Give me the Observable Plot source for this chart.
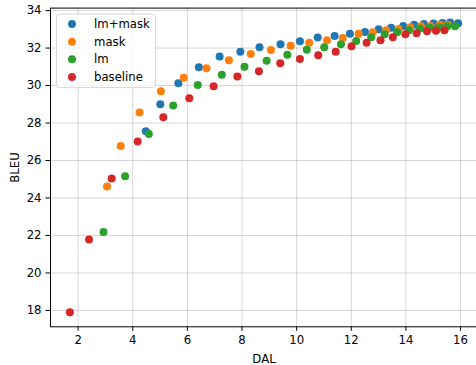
<!DOCTYPE html>
<html>
<head>
<meta charset="utf-8">
<script src="https://cdn.jsdelivr.net/npm/d3@7"></script>
<script src="https://cdn.jsdelivr.net/npm/@observablehq/plot@0.6"></script>
<style>
  html, body { margin: 0; padding: 0; background: #fff; }
  #chart { width: 476px; height: 365px; overflow: hidden; }
</style>
</head>
<body>
<div id="chart"></div>
<script>
const seriesNames = ["lm+mask", "mask", "lm", "baseline"];
const seriesColors = ["#1f77b4", "#ff7f0e", "#2ca02c", "#d62728"];

const dalLmMask = [4.48, 5.01, 5.67, 6.42, 7.18, 7.94, 8.64, 9.41, 10.12, 10.77, 11.39, 11.95, 12.50, 13.00, 13.46, 13.90, 14.30, 14.66, 15.01, 15.34, 15.62, 15.91];
const bleuLmMask = [27.56, 29.00, 30.12, 30.98, 31.55, 31.81, 32.04, 32.20, 32.36, 32.56, 32.65, 32.76, 32.86, 33.00, 33.09, 33.18, 33.24, 33.29, 33.31, 33.34, 33.36, 33.32];

const dalMask = [3.06, 3.56, 4.25, 5.03, 5.87, 6.70, 7.52, 8.32, 9.06, 9.78, 10.46, 11.11, 11.69, 12.27, 12.79, 13.28, 13.73, 14.16, 14.55, 14.90, 15.24, 15.53];
const bleuMask = [24.61, 26.78, 28.56, 29.70, 30.41, 30.92, 31.35, 31.69, 31.90, 32.12, 32.28, 32.42, 32.54, 32.76, 32.85, 32.95, 33.02, 33.11, 33.16, 33.18, 33.24, 33.25];

const dalLm = [2.93, 3.72, 4.59, 5.48, 6.38, 7.26, 8.09, 8.90, 9.66, 10.37, 11.01, 11.62, 12.18, 12.73, 13.22, 13.68, 14.11, 14.51, 14.88, 15.23, 15.52, 15.80];
const bleuLm = [22.18, 25.16, 27.42, 28.93, 30.03, 30.57, 31.00, 31.33, 31.64, 31.91, 32.05, 32.21, 32.38, 32.58, 32.74, 32.84, 32.95, 33.04, 33.08, 33.11, 33.16, 33.16];

const dalBase = [1.70, 2.40, 3.23, 4.18, 5.12, 6.07, 6.96, 7.83, 8.62, 9.40, 10.12, 10.79, 11.43, 12.01, 12.56, 13.07, 13.52, 13.98, 14.39, 14.77, 15.10, 15.41];
const bleuBase = [17.90, 21.79, 25.04, 27.01, 28.31, 29.32, 29.96, 30.48, 30.76, 31.19, 31.42, 31.62, 31.80, 32.10, 32.29, 32.42, 32.58, 32.74, 32.79, 32.90, 32.93, 32.95];

const xTicks = [2, 4, 6, 8, 10, 12, 14, 16];
const yTicks = [18, 20, 22, 24, 26, 28, 30, 32, 34];
const xLabel = "DAL";
const yLabel = "BLEU";

// Build table (drawing order: lm+mask, mask, lm, baseline)
const dalSeries = [dalLmMask, dalMask, dalLm, dalBase];
const bleuSeries = [bleuLmMask, bleuMask, bleuLm, bleuBase];
const table = [];
seriesNames.forEach((name, i) => {
  dalSeries[i].forEach((d, j) => table.push({series: name, dal: d, bleu: bleuSeries[i][j]}));
});

// matplotlib-like 5% margins
function padded(vals) {
  const [lo, hi] = d3.extent(vals);
  const m = (hi - lo) * 0.05;
  return [lo - m, hi + m];
}
const xDomain = padded(table.map(d => d.dal));
const yDomain = padded(table.map(d => d.bleu));

const FONT = "DejaVu Sans, sans-serif";
const FS = 11.7;

function legend(index, scales, values, dimensions) {
  const {marginLeft, marginTop} = dimensions;
  const g = d3.create("svg:g").attr("font-family", FONT).attr("font-size", FS).attr("text-anchor", "start");
  const x0 = marginLeft + 6.5, y0 = marginTop + 6.5;
  g.append("rect")
    .attr("x", x0).attr("y", y0)
    .attr("width", 99).attr("height", 73.5)
    .attr("rx", 3).attr("ry", 3)
    .attr("fill", "white").attr("fill-opacity", 0.8)
    .attr("stroke", "#cccccc").attr("stroke-opacity", 0.8).attr("stroke-width", 1);
  seriesNames.forEach((name, i) => {
    const cy = y0 + 10 + i * 17.6;
    g.append("circle").attr("cx", x0 + 15.5).attr("cy", cy).attr("r", 4).attr("fill", seriesColors[i]);
    g.append("text").attr("x", x0 + 37.5).attr("y", cy).attr("dy", "0.35em")
      .attr("text-anchor", "start").attr("fill", "black").text(name);
  });
  return g.node();
}

const chart = Plot.plot({
  width: 476,
  height: 365,
  marginLeft: 50,
  marginRight: -1,
  marginTop: 7.6,
  marginBottom: 38.7,
  style: {fontFamily: FONT, fontSize: FS + "px", background: "white", color: "black"},
  x: {domain: xDomain},
  y: {domain: yDomain},
  color: {domain: seriesNames, range: seriesColors},
  marks: [
    Plot.gridX(xTicks, {stroke: "#b0b0b0", strokeOpacity: 0.5, strokeWidth: 1}),
    Plot.gridY(yTicks, {stroke: "#b0b0b0", strokeOpacity: 0.5, strokeWidth: 1}),
    Plot.dot(table, {x: "dal", y: "bleu", fill: "series", r: 4}),
    Plot.axisX(xTicks, {tickSize: 4.5, tickPadding: 4, fontSize: FS, label: xLabel, labelAnchor: "center", labelArrow: "none", labelOffset: 36}),
    Plot.axisY(yTicks, {tickSize: 4.5, tickPadding: 4.5, fontSize: FS, label: yLabel, labelAnchor: "center", labelArrow: "none", labelOffset: 40}),
    Plot.frame({stroke: "black", strokeWidth: 1}),
    legend
  ]
});
document.getElementById("chart").appendChild(chart);
</script>
</body>
</html>
